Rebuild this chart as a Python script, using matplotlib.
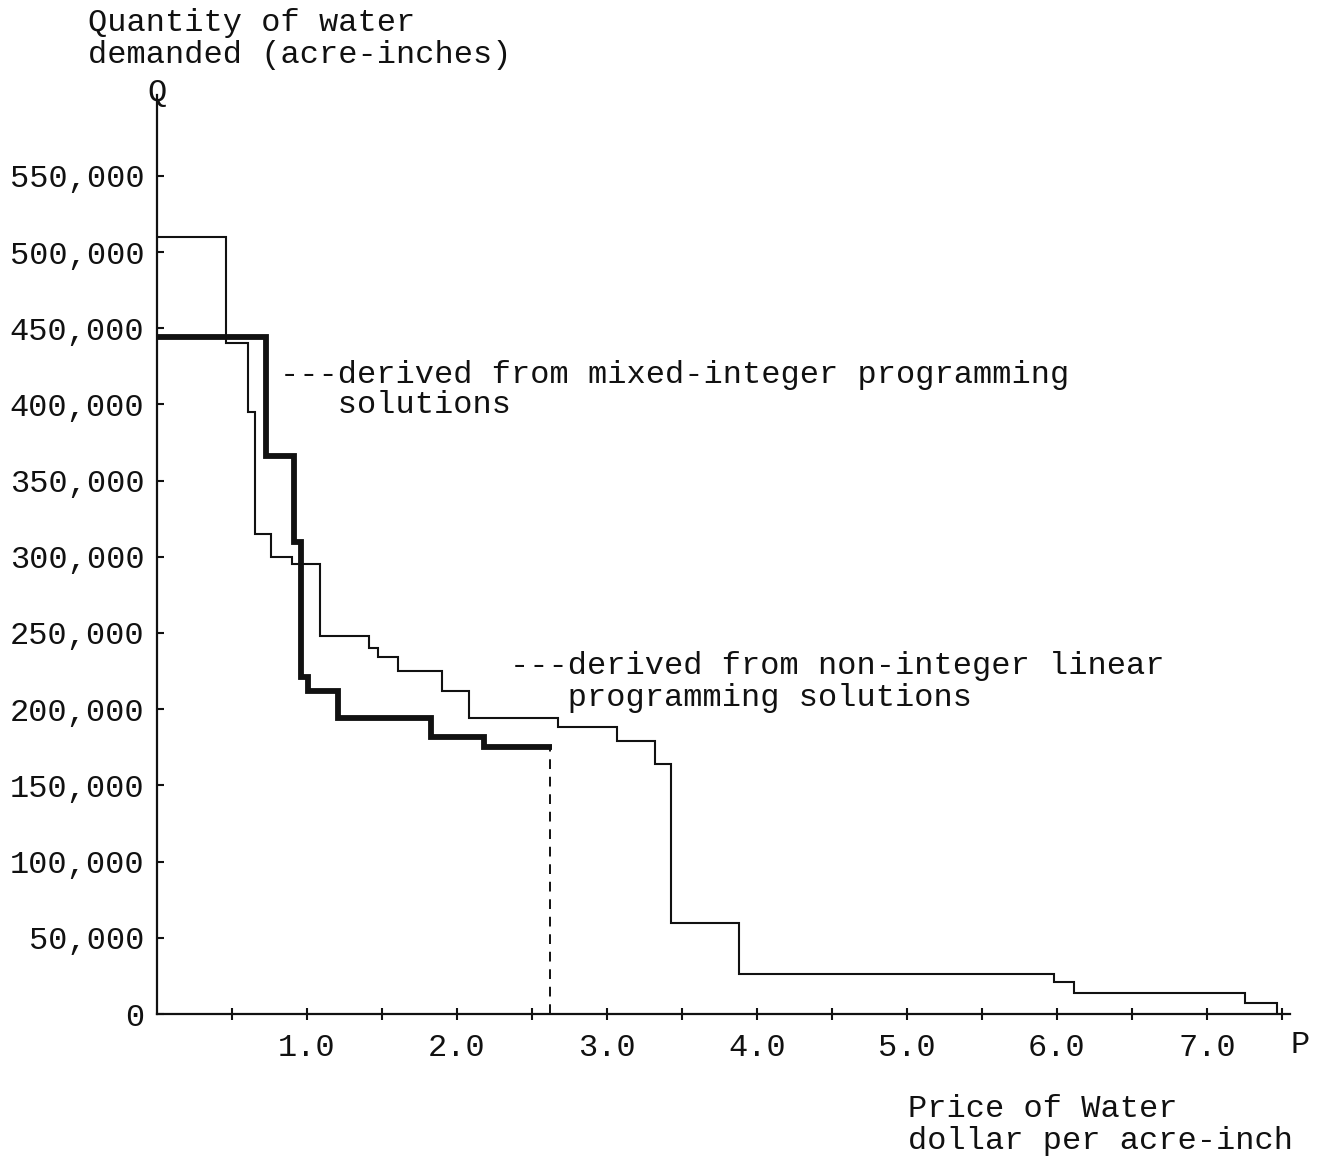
import matplotlib
matplotlib.use("Agg")
import matplotlib.pyplot as plt
from matplotlib.ticker import FixedLocator, FuncFormatter

# Demand schedule from non-integer linear programming solutions (thin line)
lp_price_edges = [0.0, 0.46, 0.607, 0.653, 0.76, 0.898, 1.087, 1.413, 1.473,
                  1.605, 1.898, 2.082, 2.671, 3.069, 3.323, 3.429, 3.882,
                  5.982, 6.113, 7.253, 7.465]
lp_quantity = [510000, 440000, 395000, 315000, 300000, 295000, 248000,
               240000, 234000, 225000, 212000, 194000, 188000, 179000,
               164000, 60000, 26000, 21000, 13500, 7500]

# Demand schedule from mixed-integer programming solutions (heavy line)
mip_price_edges = [0.0, 0.727, 0.913, 0.96, 1.005, 1.207, 1.828, 2.178, 2.633]
mip_quantity = [444000, 366000, 310000, 221000, 212000, 194000, 182000, 175000]
mip_cutoff_price = 2.62

y_ticks = [0, 50000, 100000, 150000, 200000, 250000, 300000, 350000,
           400000, 450000, 500000, 550000]
x_major = [1.0, 2.0, 3.0, 4.0, 5.0, 6.0, 7.0]
x_minor = [0.5, 1.5, 2.5, 3.5, 4.5, 5.5, 6.5, 7.5]

W, H = 1321, 1160
FONT = "Liberation Mono"
FS = 23
INK = "#111111"

fig = plt.figure(figsize=(W / 100, H / 100), dpi=100)
fig.patch.set_facecolor("white")

x0, x1 = 157, 1290
y0, y1 = 1014, 95
ax = fig.add_axes([x0 / W, 1 - y0 / H, (x1 - x0) / W, (y0 - y1) / H])
ax.set_xlim(0, (x1 - x0) / 150)
ax.set_ylim(0, (y0 - y1) * 50000 / 76.2)

for s in ("top", "right"):
    ax.spines[s].set_visible(False)
for s in ("left", "bottom"):
    ax.spines[s].set_linewidth(1.6)
    ax.spines[s].set_color(INK)

# thin step line
ax.step(lp_price_edges, lp_quantity + [0], where="post",
        color=INK, lw=1.5, solid_joinstyle="miter")
# heavy step line
ax.step(mip_price_edges, mip_quantity + [mip_quantity[-1]], where="post",
        color=INK, lw=4.2, solid_joinstyle="miter", solid_capstyle="butt")
# dashed drop of the mixed-integer schedule
ax.plot([mip_cutoff_price, mip_cutoff_price], [0, mip_quantity[-1]],
        color=INK, lw=1.4, linestyle=(0, (5, 4)))

ax.yaxis.set_major_locator(FixedLocator(y_ticks))
ax.yaxis.set_major_formatter(
    FuncFormatter(lambda v, p: "0" if v == 0 else f"{int(v):,}"))
ax.xaxis.set_major_locator(FixedLocator(x_major))
ax.xaxis.set_minor_locator(FixedLocator(x_minor))
ax.xaxis.set_major_formatter(FuncFormatter(lambda v, p: f"{v:.1f}"))

ax.tick_params(axis="y", direction="in", length=5, width=1.5, pad=9,
               labelsize=FS, colors=INK)
ax.tick_params(axis="x", which="both", direction="inout", length=8,
               width=1.5, pad=10, labelsize=FS, colors=INK)
for lab in ax.get_xticklabels() + ax.get_yticklabels():
    lab.set_fontfamily(FONT)


def px_text(x, y, s, ha="left", va="top", ls=1.1):
    fig.text(x / W, 1 - y / H, s, ha=ha, va=va, fontsize=FS,
             family=FONT, color=INK, linespacing=ls)


px_text(88, 8, "Quantity of water\ndemanded (acre-inches)")
px_text(157, 78, "Q", ha="center")
px_text(1300, 1030, "P", ha="center")
px_text(908, 1094, "Price of Water\ndollar per acre-inch")
px_text(280, 360, "---derived from mixed-integer programming\n   solutions",
        ls=1.02)
px_text(510, 651, "---derived from non-integer linear\n   programming solutions",
        ls=1.07)

fig.savefig("out.png", dpi=100, facecolor="white")
